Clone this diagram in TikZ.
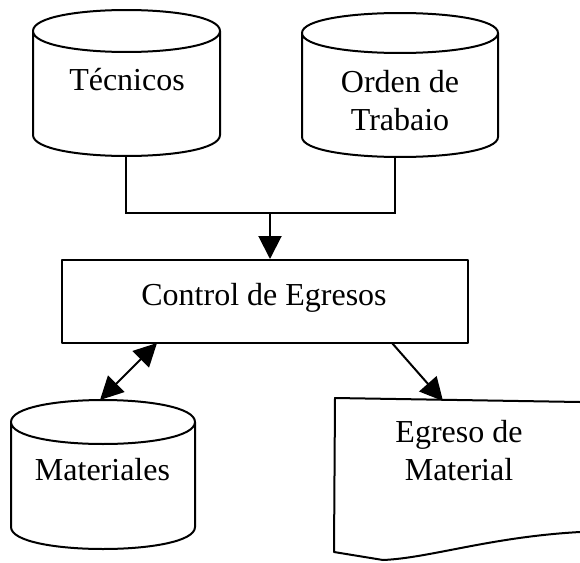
\documentclass[tikz,border=0pt]{standalone}
\usepackage{fontspec}
\setmainfont{Liberation Serif}
\usetikzlibrary{arrows.meta}
\newcommand\dbcyl[5]{% #1 left, #2 right, #3 rim y, #4 half height of ellipse, #5 bottom y
  \draw[outline] (#1,#3) .. controls (#1,#3-1.333*#4) and (#2,#3-1.333*#4) .. (#2,#3)
     .. controls (#2,#3+1.333*#4) and (#1,#3+1.333*#4) .. (#1,#3)
     -- (#1,#5) .. controls (#1,#5+1.333*#4) and (#2,#5+1.333*#4) .. (#2,#5) -- (#2,#3);}
\begin{document}
\begin{tikzpicture}[x=1pt,y=-1pt,
  outline/.style={line width=2pt, line join=round},
  lbl/.style={font=\fontsize{32}{38}\selectfont, align=center, inner sep=0pt},
  conn/.style={line width=2pt},
  tip/.style={conn, -{Triangle[length=23pt,width=23pt]}},
  dtip/.style={conn, {Triangle[length=23pt,width=23pt]}-{Triangle[length=23pt,width=23pt]}}]
\useasboundingbox (0,0) rectangle (580,562);

% data stores
\dbcyl{33}{220}{31}{21}{135}
\dbcyl{302}{498}{33}{20}{137}
\dbcyl{11}{195}{422}{22}{527}
\node[lbl, anchor=base] (tec) at (127,90) {Técnicos};
\node[lbl] (ord) at (400,101) {Orden de\\Trabaio};
\node[lbl, anchor=base] (mat) at (102.5,480) {Materiales};

% process
\node[draw, outline, minimum width=406pt, minimum height=83pt, inner sep=0pt] (ctrl) at (265,301.5) {};
\node[lbl, anchor=base] (ctrltxt) at (264,305) {Control de Egresos};

% document
\draw[outline] (580,402) -- (335,398) -- (334,552) -- (383,560)
   .. controls (430,558) and (490,537) .. (580,532);
\node[lbl] (egr) at (459,451) {Egreso de\\Material};

% connection points
\coordinate (tecb) at (126,155);
\coordinate (ordb) at (395,157);
\coordinate (join) at (270,213);
\coordinate (ctrlbl) at (157,343);
\coordinate (matt) at (100,400);
\coordinate (ctrlbr) at (392,343);
\coordinate (egrt) at (443,401);

\draw[conn] (tecb) |- (join) -| (ordb);
\draw[tip] (join) -- (join |- ctrl.north);
\draw[dtip] (ctrlbl) -- (matt);
\draw[tip] (ctrlbr) -- (egrt);
\end{tikzpicture}
\end{document}
